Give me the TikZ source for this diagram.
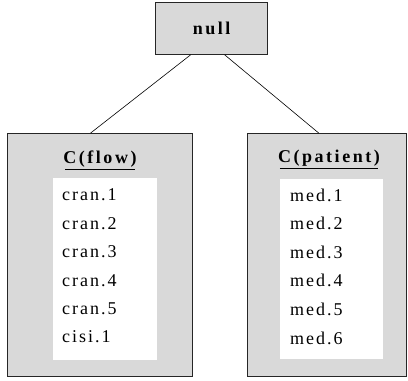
\documentclass[tikz,border=0pt]{standalone}
\usepackage{fontspec}
\setmainfont{Liberation Serif}
\newfontfamily\listfont[LetterSpace=11]{Liberation Serif}
\newfontfamily\titlefont[LetterSpace=14]{Liberation Serif}
\usetikzlibrary{calc}
\definecolor{boxgray}{RGB}{217,217,217}
\tikzset{
  graybox/.style={draw=black!85, line width=1.3pt, fill=boxgray, inner sep=0pt, anchor=north west},
  whitebox/.style={draw=none, fill=white, inner sep=0pt, anchor=north west},
  item/.style={inner sep=0pt, anchor=west, font=\fontsize{18}{20}\listfont},
  title/.style={inner sep=1pt, font=\fontsize{18}{20}\titlefont\bfseries},
  uline/.style={line width=1.6pt, black},
  conn/.style={line width=0.6pt, black}
}
\begin{document}
\begin{tikzpicture}[x=1pt,y=-1pt]
\useasboundingbox (0,0) rectangle (408,381);
% top
\node[graybox, minimum width=112pt, minimum height=52pt] (null) at (155,1.5) {};
\node[font=\fontsize{18}{20}\titlefont\bfseries, inner sep=0pt] (nulltxt) at (null.center) {null};
% left box
\node[graybox, minimum width=185pt, minimum height=243pt] (flow) at (7,133) {};
\node[whitebox, minimum width=104pt, minimum height=182pt] (flowin) at (53,177.5) {};
\node[title] (flowt) at (100,159) {C(flow)};
\draw[uline] ($(flowt.south west)+(3,1)$) -- ($(flowt.south east)+(-3,1)$);
\node[item] (c1) at (62,195) {cran.1};
\node[item] (c2) at (62,223.4) {cran.2};
\node[item] (c3) at (62,251.8) {cran.3};
\node[item] (c4) at (62,280.2) {cran.4};
\node[item] (c5) at (62,308.6) {cran.5};
\node[item] (c6) at (62,337) {cisi.1};
% right box
\node[graybox, minimum width=159pt, minimum height=243pt] (pat) at (247,133) {};
\node[whitebox, minimum width=103pt, minimum height=180pt] (patin) at (280,179) {};
\node[title] (patt) at (329,158) {C(patient)};
\draw[uline] ($(patt.south west)+(3,1)$) -- ($(patt.south east)+(-3,1)$);
\node[item] (m1) at (290,195) {med.1};
\node[item] (m2) at (290,223.6) {med.2};
\node[item] (m3) at (290,252.2) {med.3};
\node[item] (m4) at (290,280.8) {med.4};
\node[item] (m5) at (290,309.4) {med.5};
\node[item] (m6) at (290,338) {med.6};
% connectors
\draw[conn] ($(null.south)+(-21,0)$) -- ($(flow.north)+(-9.5,0)$);
\draw[conn] ($(null.south)+(13,0)$) -- ($(pat.north)+(-8.5,0)$);
\end{tikzpicture}
\end{document}
